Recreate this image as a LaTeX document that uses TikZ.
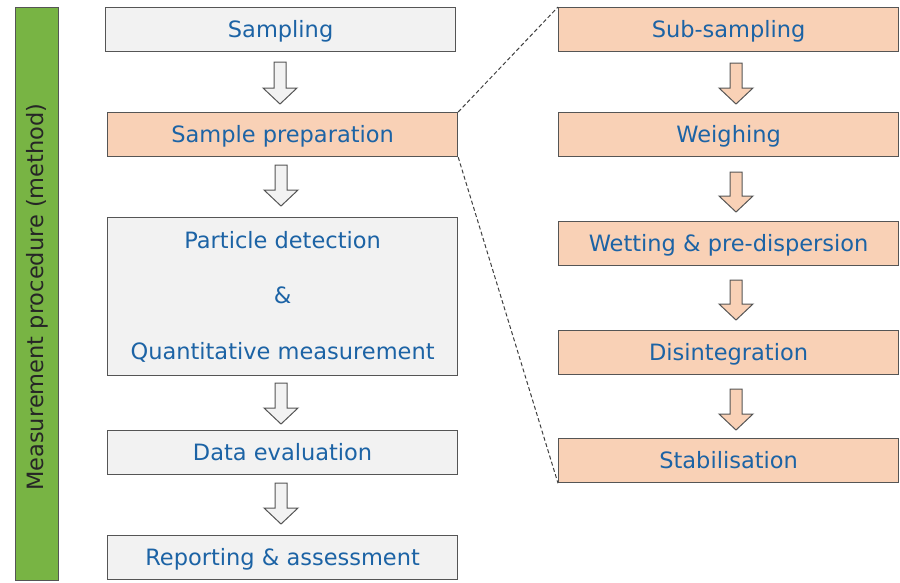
\documentclass[tikz,border=0pt]{standalone}
\usepackage{fontspec}
\setmainfont{DejaVu Sans}
\usetikzlibrary{calc}
\definecolor{boxgray}{HTML}{F2F2F2}
\definecolor{peach}{HTML}{F9D1B6}
\definecolor{edgegray}{HTML}{555555}
\definecolor{txtblue}{HTML}{1C63A5}
\definecolor{bargreen}{HTML}{78B444}
\tikzset{
  box/.style={draw=edgegray, line width=1.2pt, minimum width=350pt, minimum height=44pt, inner sep=0pt, text=txtblue, font=\fontsize{22.5}{26}\selectfont, anchor=north west},
  onerow/.style={text height=21pt, text depth=5pt},
  graybox/.style={box, fill=boxgray},
  peachbox/.style={box, onerow, fill=peach},
  rbox/.style={box, minimum width=340pt},
  barrow/.style={draw=edgegray, line width=1pt, line join=miter},
  zoomline/.style={draw=black!75, line width=1pt, dash pattern=on 4pt off 2.5pt}
}
% block arrow: #1 x center, #2 top y, #3 bottom y, #4 fill
\newcommand\blockarr[4]{%
  \path[barrow, fill=#4] (#1-6,#2) -- (#1+6,#2) -- (#1+6,#3-16) -- (#1+17,#3-16) -- (#1,#3) -- (#1-17,#3-16) -- (#1-6,#3-16) -- cycle;}
\begin{document}
\begin{tikzpicture}[x=1pt,y=-1pt]
\useasboundingbox (0,0) rectangle (900,582);
% green bar
\node[draw=edgegray, line width=1.2pt, fill=bargreen, minimum width=43pt, minimum height=573pt, inner sep=0pt, anchor=north west] (bar) at (15,7) {};
\node[rotate=90, font=\fontsize{22.5}{26}\selectfont, text=black!85] (bartext) at ([yshift=-3pt]bar.center) {Measurement procedure (method)};
% left column
\node[graybox, onerow] (samp) at (105,7) {Sampling};
\node[peachbox] (prep) at (107,112) {Sample preparation};
\node[graybox, minimum height=158pt, align=center] (det) at (107,217) {Particle detection\\[29.5pt]\&\\[29.5pt]Quantitative measurement};
\node[graybox, onerow] (eval) at (107,430) {Data evaluation};
\node[graybox, onerow] (rep) at (107,535) {Reporting \& assessment};
% right column
\node[peachbox, rbox] (sub) at (558,7) {Sub-sampling};
\node[peachbox, rbox] (weigh) at (558,112) {Weighing};
\node[peachbox, rbox] (wet) at (558,221) {Wetting \& pre-dispersion};
\node[peachbox, rbox] (dis) at (558,330) {Disintegration};
\node[peachbox, rbox] (stab) at (558,438) {Stabilisation};
% block arrows left
\blockarr{280}{62}{104}{boxgray}
\blockarr{281}{165}{206}{boxgray}
\blockarr{281}{383}{424}{boxgray}
\blockarr{281}{483}{524}{boxgray}
% block arrows right
\blockarr{736}{63}{104}{peach}
\blockarr{736}{172}{212}{peach}
\blockarr{736}{280}{320}{peach}
\blockarr{736}{389}{430}{peach}
% zoom lines
\draw[zoomline] (prep.north east) -- (sub.north west);
\draw[zoomline] (prep.south east) -- (stab.south west);
\end{tikzpicture}
\end{document}
